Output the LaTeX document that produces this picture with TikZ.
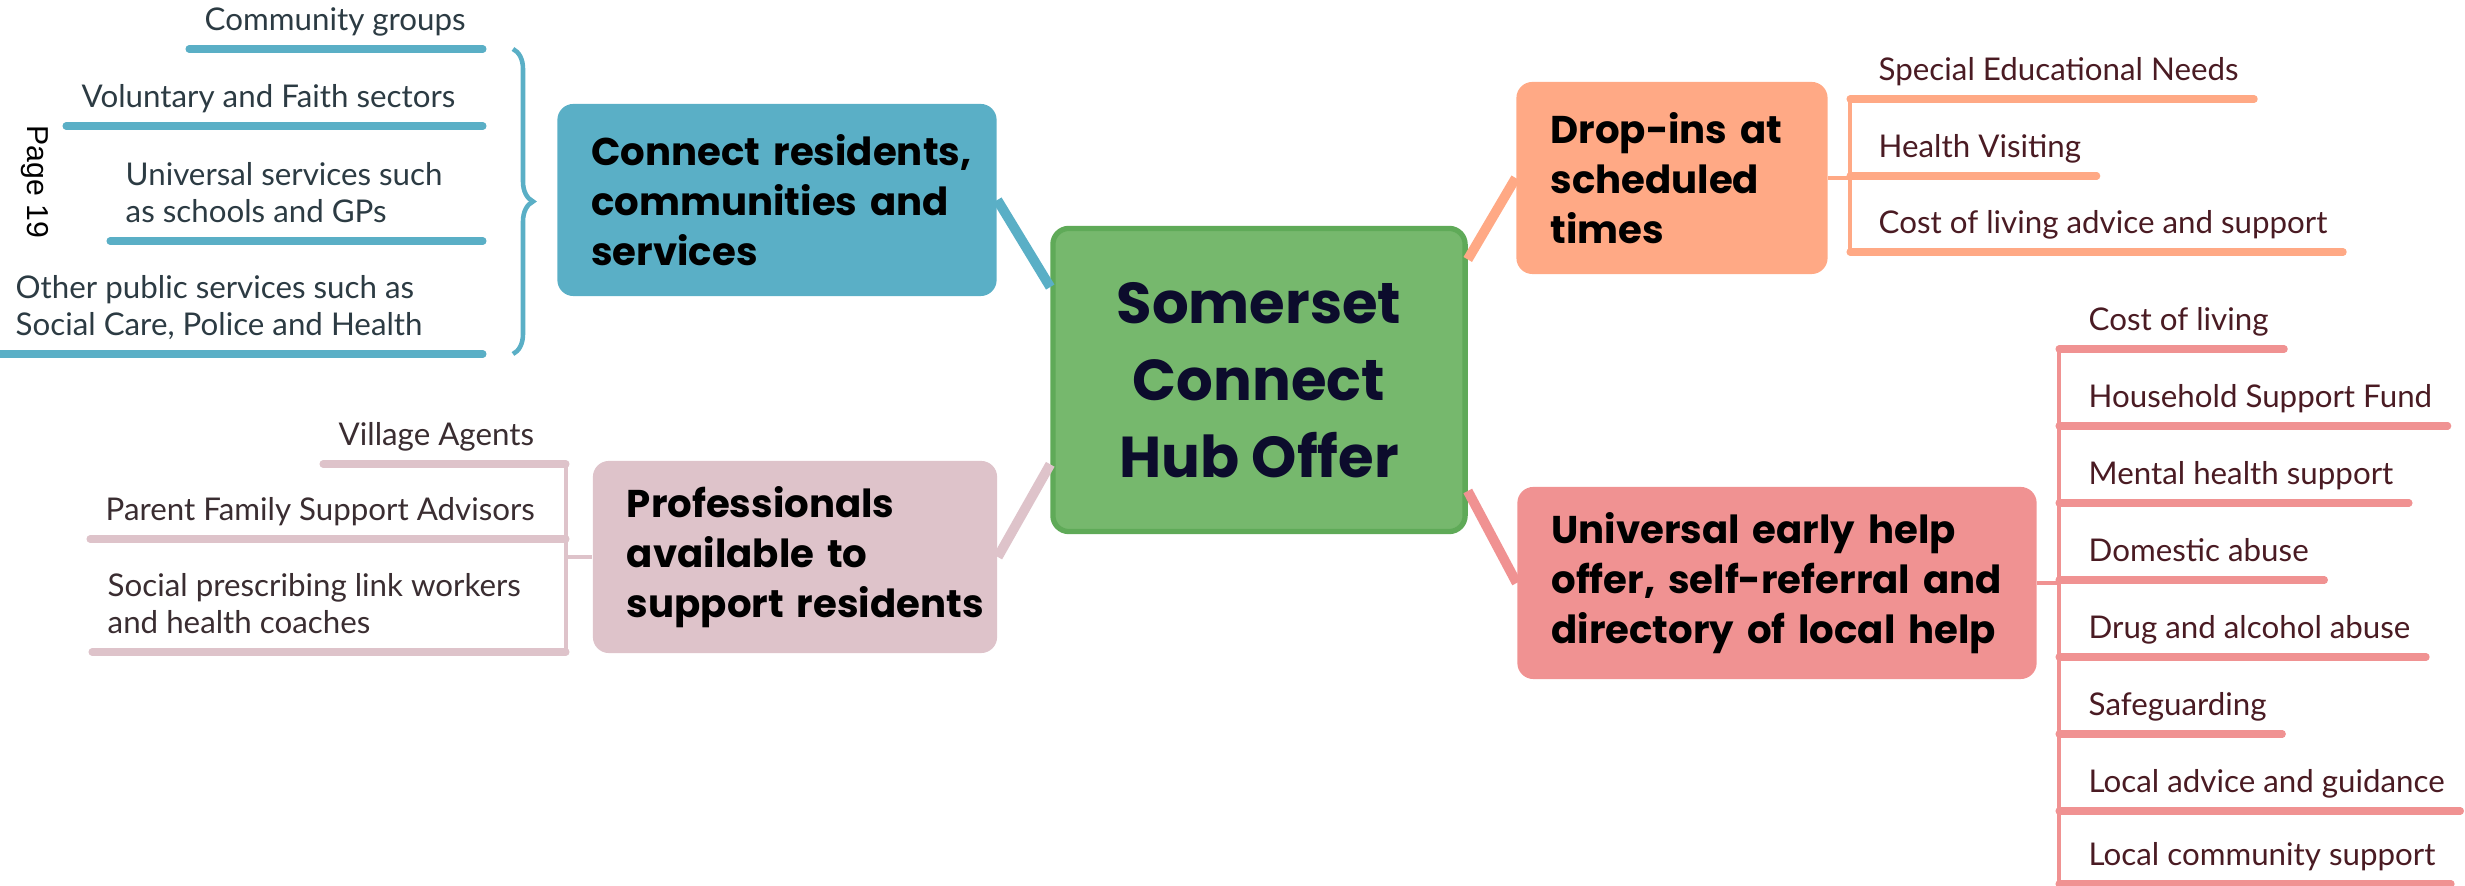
\documentclass[tikz,border=0pt]{standalone}
\usepackage{fontspec}
\setmainfont{Lato}
\newfontfamily\headfont{Poppins}
\newfontfamily\pagefont{Liberation Sans}
\usepackage{xcolor}
\usepackage{tikz}
\usetikzlibrary{positioning,calc,decorations.pathreplacing}
\definecolor{hubfill}{HTML}{76B86D}
\definecolor{hubline}{HTML}{5FAA58}
\definecolor{hubtext}{HTML}{0C0C2C}
\definecolor{connfill}{HTML}{5AAFC6}
\definecolor{dropfill}{HTML}{FFA985}
\definecolor{helpfill}{HTML}{F09292}
\definecolor{proffill}{HTML}{DEC3CA}
\definecolor{leafblue}{HTML}{2C3B43}
\definecolor{leafmauve}{HTML}{3A2D31}
\definecolor{leafred}{HTML}{4A1B23}

\begin{document}
\begin{tikzpicture}[x=0.01cm, y=-0.01cm,
        topic/.style={rounded corners=0.16cm, align=left, inner xsep=0.34cm, minimum height=1.92cm,
            execute at begin node={\hyphenpenalty=10000\exhyphenpenalty=10000},
            font=\headfont\bfseries\fontsize{11}{14.2}\selectfont},
        leaf/.style={anchor=south west, align=left, inner xsep=0.15cm, inner ysep=0.08cm, text depth=0.1cm,
            font=\fontsize{8.9}{10.4}\selectfont},
        link/.style={line width=2.8pt},
        twig/.style={line width=1.3pt},
        uline/.style={line width=2pt, line cap=round}]
        \useasboundingbox (0,0) rectangle (2465,886);

        \node[topic, fill=hubfill, draw=hubline, line width=1.5pt, align=center, minimum width=4.12cm, minimum height=3.03cm, text=hubtext,
            font=\headfont\bfseries\fontsize{16.4}{21.9}\selectfont] (hub) at (1259,380) {Somerset\\Connect\\Hub Offer};
        \node[topic, fill=connfill, text width=3.71cm] (conn) at (777,200) {Connect~residents,\\communities~and\\services};
        \node[topic, fill=dropfill, text width=2.43cm] (drop) at (1672,178) {Drop-ins~at\\scheduled\\times};
        \node[topic, fill=helpfill, text width=4.51cm] (help) at (1777,583) {Universal~early~help\\offer,~self-referral~and\\directory~of~local~help};
        \node[topic, fill=proffill, text width=3.36cm] (prof) at (795,557) {Professionals\\available~to\\support~residents};

        \draw[link, connfill] (conn.east) -- (hub.156);
        \draw[link, dropfill] (hub.30) -- (drop.west);
        \draw[link, helpfill] (hub.-28) -- (help.west);
        \draw[link, proffill] (prof.east) -- (hub.202);

        \node[font=\pagefont\fontsize{8.6}{10}\selectfont, rotate=-90] (page) at (35,182) {Page 19};

        \coordinate (cedge) at (483,200);
        \coordinate (bracetop) at (513,49);
        \coordinate (bracebot) at (513,354);
        \node[leaf, text=leafblue] (cg) at (189,49) {Community groups};
        \node[leaf, text=leafblue] (vf) at (66,126) {Voluntary and Faith sectors};
        \node[leaf, text=leafblue] (us) at (110,241) {Universal services such\\as schools and GPs};
        \node[leaf, text=leafblue] (op) at (0,354) {Other public services such as\\Social Care, Police and Health};
        \draw[uline, connfill] (cg.south west) -- (cg.south west -| cedge);
        \draw[uline, connfill] (vf.south west) -- (vf.south west -| cedge);
        \draw[uline, connfill] (us.south west) -- (us.south west -| cedge);
        \draw[uline, connfill] (op.south west) -- (op.south west -| cedge);
        \draw[twig, connfill, decorate, decoration={brace, amplitude=0.2cm}] (bracetop) -- (bracebot);

        \coordinate (pspine) at (566,557);
        \node[leaf, text=leafmauve] (va) at (323,464) {Village Agents};
        \node[leaf, text=leafmauve] (pf) at (90,539) {Parent Family Support Advisors};
        \node[leaf, text=leafmauve] (sp) at (92,652) {Social prescribing link workers\\and health coaches};
        \draw[twig, proffill] (prof.west) -- (pspine);
        \draw[twig, proffill] (va.south west -| pspine) -- (sp.south west -| pspine);
        \draw[uline, proffill] (va.south west) -- (va.south west -| pspine);
        \draw[uline, proffill] (pf.south west) -- (pf.south west -| pspine);
        \draw[uline, proffill] (sp.south west) -- (sp.south west -| pspine);

        \coordinate (dspine) at (1850,178);
        \node[leaf, text=leafred] (sen) at (1863,99) {Special Educational Needs};
        \node[leaf, text=leafred] (hv) at (1863,176) {Health Visiting};
        \node[leaf, text=leafred] (clv) at (1863,252) {Cost of living advice and support};
        \draw[twig, dropfill] (drop.east) -- (dspine);
        \draw[twig, dropfill] (sen.south west -| dspine) -- (clv.south west -| dspine);
        \draw[uline, dropfill] (sen.south west -| dspine) -- (sen.south east);
        \draw[uline, dropfill] (hv.south west -| dspine) -- (hv.south east);
        \draw[uline, dropfill] (clv.south west -| dspine) -- (clv.south east);

        \coordinate (hspine) at (2059,583);
        \node[leaf, text=leafred] (col) at (2073,349) {Cost of living};
        \node[leaf, text=leafred] (hsf) at (2073,426) {Household Support Fund};
        \node[leaf, text=leafred] (mhs) at (2073,503) {Mental health support};
        \node[leaf, text=leafred] (dab) at (2073,580) {Domestic abuse};
        \node[leaf, text=leafred] (daa) at (2073,657) {Drug and alcohol abuse};
        \node[leaf, text=leafred] (sfg) at (2073,734) {Safeguarding};
        \node[leaf, text=leafred] (lag) at (2073,811) {Local advice and guidance};
        \node[leaf, text=leafred] (lcs) at (2073,884) {Local community support};
        \draw[twig, helpfill] (help.east) -- (hspine);
        \draw[twig, helpfill] (col.south west -| hspine) -- (lcs.south west -| hspine);
        \draw[uline, helpfill] (col.south west -| hspine) -- (col.south east);
        \draw[uline, helpfill] (hsf.south west -| hspine) -- (hsf.south east);
        \draw[uline, helpfill] (mhs.south west -| hspine) -- (mhs.south east);
        \draw[uline, helpfill] (dab.south west -| hspine) -- (dab.south east);
        \draw[uline, helpfill] (daa.south west -| hspine) -- (daa.south east);
        \draw[uline, helpfill] (sfg.south west -| hspine) -- (sfg.south east);
        \draw[uline, helpfill] (lag.south west -| hspine) -- (lag.south east);
        \draw[uline, helpfill] (lcs.south west -| hspine) -- (lcs.south east);
    \end{tikzpicture}
\end{document}
